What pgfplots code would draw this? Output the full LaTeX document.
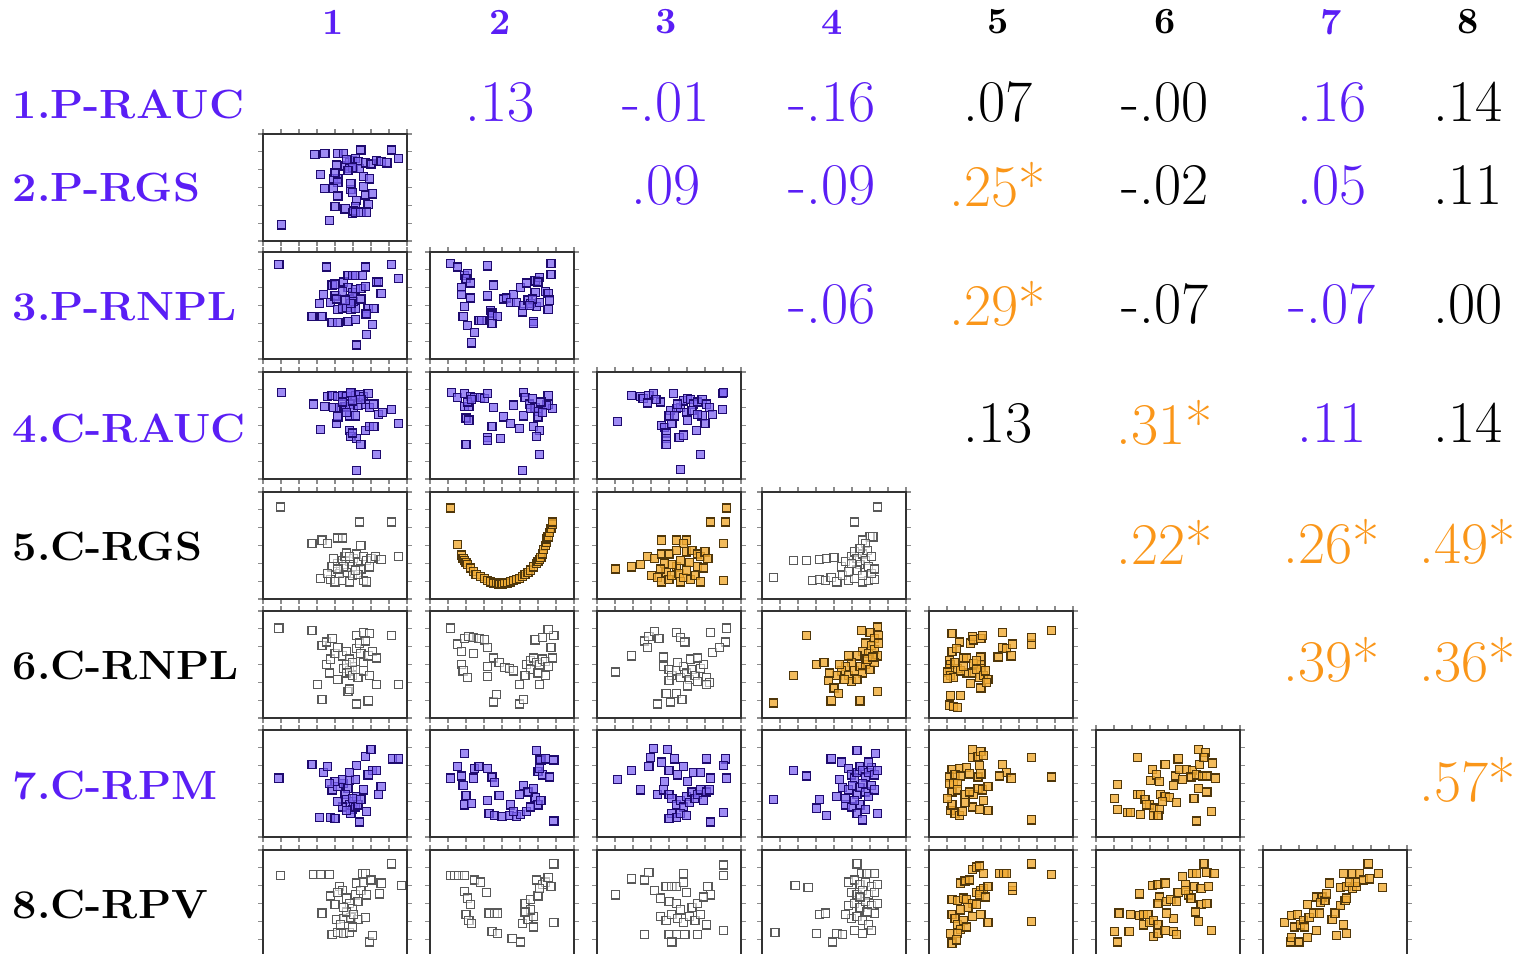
\documentclass[border=0pt]{standalone}
\usepackage{graphicx}
\usepackage{pgfplots}
\pgfplotsset{compat=1.18}
\definecolor{tblue}{RGB}{90,30,245}
\definecolor{torange}{RGB}{250,150,25}
\definecolor{mblue}{RGB}{125,100,240}
\definecolor{mnavy}{RGB}{30,10,110}
\definecolor{morange}{RGB}{240,170,50}
\definecolor{mbrown}{RGB}{80,55,10}
\pgfplotsset{
  panel/.style={width=1.44cm,height=1.07cm,scale only axis,anchor=north west,
    xmin=0,xmax=1,ymin=0,ymax=1,
    axis line style={draw=black!80,line width=0.8pt},
    xtick={0,0.125,...,1.01},ytick={0,0.1667,...,1.01},
    xticklabels={},yticklabels={},
    tick align=outside,major tick length=1.3pt,
    tick style={black!45,line width=0.35pt}},
  bluem/.style={only marks,mark=square*,mark size=1.15pt,
    mark options={draw=mnavy,fill=mblue,fill opacity=0.75,line width=0.35pt,rounded corners=0.4pt}},
  orm/.style={only marks,mark=square*,mark size=1.15pt,
    mark options={draw=mbrown,fill=morange,fill opacity=0.8,line width=0.35pt,rounded corners=0.4pt}},
  whm/.style={only marks,mark=square*,mark size=1.15pt,
    mark options={draw=black!65,fill=white,fill opacity=0.6,line width=0.35pt,rounded corners=0.4pt}},
}
\newcommand\panel[4]{\begin{axis}[panel,at={(#1cm,#2cm)}]\addplot[#3] coordinates {#4};\end{axis}}
\newcommand\hd[3]{\node[font=\bfseries\fontsize{10.5}{12}\selectfont,text=#3] at (#1cm,9.32cm) {#2};}
\newcommand\rl[3]{\node[anchor=west,font=\bfseries\fontsize{11.6}{14}\selectfont,text=#3,inner sep=0pt] at (0.12cm,#1cm) {\scalebox{1.06}[1]{#2}};}
\newcommand\nm[4]{\node[font=\fontsize{16.8}{19}\selectfont,text=#4] at (#1cm,#2cm) {#3};}
\begin{document}
\begin{tikzpicture}
% headers
\hd{3.33}{1}{tblue}\hd{5.00}{2}{tblue}\hd{6.66}{3}{tblue}\hd{8.32}{4}{tblue}
\hd{9.98}{5}{black}\hd{11.65}{6}{black}\hd{13.31}{7}{tblue}\hd{14.68}{8}{black}
% row labels
\rl{8.49}{1.P-RAUC}{tblue}
\rl{7.66}{2.P-RGS}{tblue}
\rl{6.47}{3.P-RNPL}{tblue}
\rl{5.26}{4.C-RAUC}{tblue}
\rl{4.07}{5.C-RGS}{black}
\rl{2.88}{6.C-RNPL}{black}
\rl{1.68}{7.C-RPM}{tblue}
\rl{0.49}{8.C-RPV}{black}
% correlations
\nm{5.00}{8.52}{.13}{tblue}\nm{6.66}{8.52}{-.01}{tblue}\nm{8.32}{8.52}{-.16}{tblue}\nm{9.98}{8.52}{.07}{black}
\nm{11.65}{8.52}{-.00}{black}\nm{13.32}{8.52}{.16}{tblue}\nm{14.68}{8.52}{.14}{black}
\nm{6.66}{7.69}{.09}{tblue}\nm{8.32}{7.69}{-.09}{tblue}\nm{9.98}{7.69}{.25*}{torange}
\nm{11.65}{7.69}{-.02}{black}\nm{13.32}{7.69}{.05}{tblue}\nm{14.68}{7.69}{.11}{black}
\nm{8.32}{6.50}{-.06}{tblue}\nm{9.98}{6.50}{.29*}{torange}\nm{11.65}{6.50}{-.07}{black}
\nm{13.32}{6.50}{-.07}{tblue}\nm{14.68}{6.50}{.00}{black}
\nm{9.98}{5.31}{.13}{black}\nm{11.65}{5.31}{.31*}{torange}\nm{13.32}{5.31}{.11}{tblue}\nm{14.68}{5.31}{.14}{black}
\nm{11.65}{4.12}{.22*}{torange}\nm{13.32}{4.12}{.26*}{torange}\nm{14.68}{4.12}{.49*}{torange}
\nm{13.32}{2.94}{.39*}{torange}\nm{14.68}{2.94}{.36*}{torange}
\nm{14.68}{1.74}{.57*}{torange}
% ---------- panels ----------
% (2,1)
\panel{2.63}{8.20}{bluem}{(0.13,0.15)(0.36,0.81)(0.43,0.82)(0.52,0.82)(0.56,0.82)(0.68,0.85)(0.89,0.85)(0.94,0.77)(0.40,0.62)(0.49,0.58)(0.52,0.58)(0.52,0.55)(0.50,0.64)(0.51,0.71)(0.57,0.70)(0.60,0.73)(0.62,0.75)(0.64,0.77)(0.66,0.74)(0.60,0.68)(0.63,0.68)(0.67,0.68)(0.71,0.73)(0.75,0.72)(0.79,0.75)(0.82,0.74)(0.86,0.73)(0.70,0.60)(0.74,0.58)(0.43,0.49)(0.49,0.49)(0.52,0.42)(0.61,0.48)(0.62,0.45)(0.65,0.38)(0.64,0.32)(0.70,0.51)(0.71,0.43)(0.76,0.44)(0.73,0.34)(0.50,0.32)(0.57,0.30)(0.46,0.19)(0.62,0.26)(0.63,0.28)(0.64,0.27)(0.68,0.27)(0.72,0.27)(0.62,0.69)(0.59,0.66)(0.58,0.76)(0.61,0.54)}
% (3,1)
\panel{2.63}{7.02}{bluem}{(0.11,0.88)(0.44,0.86)(0.71,0.86)(0.89,0.88)(0.94,0.75)(0.82,0.61)(0.56,0.72)(0.59,0.78)(0.62,0.78)(0.64,0.78)(0.69,0.78)(0.59,0.67)(0.62,0.62)(0.64,0.65)(0.68,0.66)(0.71,0.68)(0.79,0.72)(0.80,0.72)(0.48,0.69)(0.50,0.70)(0.47,0.53)(0.50,0.59)(0.51,0.56)(0.42,0.60)(0.39,0.52)(0.34,0.40)(0.41,0.40)(0.52,0.46)(0.55,0.47)(0.58,0.48)(0.61,0.46)(0.64,0.47)(0.60,0.56)(0.62,0.58)(0.63,0.54)(0.61,0.52)(0.68,0.56)(0.73,0.47)(0.77,0.47)(0.48,0.34)(0.52,0.34)(0.59,0.35)(0.64,0.37)(0.71,0.42)(0.72,0.42)(0.76,0.32)(0.72,0.23)(0.65,0.13)(0.57,0.55)(0.55,0.63)}
% (3,2)
\panel{4.30}{7.02}{bluem}{(0.14,0.89)(0.19,0.86)(0.24,0.78)(0.26,0.80)(0.25,0.75)(0.22,0.67)(0.28,0.71)(0.22,0.60)(0.28,0.57)(0.24,0.49)(0.23,0.40)(0.26,0.31)(0.31,0.25)(0.29,0.15)(0.34,0.36)(0.36,0.36)(0.40,0.87)(0.40,0.59)(0.44,0.69)(0.42,0.45)(0.43,0.43)(0.43,0.41)(0.47,0.40)(0.43,0.33)(0.51,0.56)(0.53,0.57)(0.56,0.53)(0.58,0.60)(0.60,0.53)(0.63,0.67)(0.64,0.44)(0.65,0.50)(0.67,0.71)(0.68,0.55)(0.70,0.52)(0.72,0.35)(0.72,0.33)(0.73,0.62)(0.73,0.73)(0.76,0.76)(0.75,0.72)(0.74,0.49)(0.76,0.53)(0.80,0.63)(0.82,0.61)(0.83,0.55)(0.82,0.46)(0.84,0.79)(0.84,0.89)(0.71,0.56)(0.69,0.50)}
% (4,1)
\panel{2.63}{5.82}{bluem}{(0.13,0.81)(0.35,0.70)(0.40,0.46)(0.43,0.68)(0.45,0.77)(0.48,0.78)(0.52,0.77)(0.55,0.78)(0.49,0.67)(0.53,0.67)(0.56,0.67)(0.51,0.52)(0.52,0.58)(0.58,0.77)(0.61,0.80)(0.64,0.78)(0.67,0.79)(0.70,0.77)(0.73,0.80)(0.61,0.81)(0.57,0.68)(0.60,0.70)(0.63,0.67)(0.66,0.69)(0.71,0.70)(0.74,0.67)(0.77,0.70)(0.80,0.60)(0.83,0.62)(0.89,0.65)(0.94,0.52)(0.60,0.59)(0.64,0.59)(0.60,0.45)(0.61,0.40)(0.65,0.38)(0.62,0.43)(0.71,0.45)(0.74,0.49)(0.77,0.49)(0.68,0.32)(0.79,0.23)(0.65,0.08)(0.55,0.72)(0.62,0.73)(0.68,0.74)(0.58,0.62)}
% (4,2)
\panel{4.30}{5.82}{bluem}{(0.15,0.81)(0.19,0.76)(0.24,0.80)(0.28,0.77)(0.31,0.76)(0.35,0.76)(0.38,0.75)(0.40,0.80)(0.24,0.68)(0.27,0.68)(0.25,0.57)(0.27,0.55)(0.25,0.32)(0.44,0.67)(0.51,0.58)(0.43,0.49)(0.40,0.39)(0.40,0.36)(0.49,0.38)(0.56,0.52)(0.62,0.47)(0.58,0.69)(0.65,0.81)(0.66,0.76)(0.65,0.59)(0.69,0.70)(0.73,0.67)(0.75,0.63)(0.75,0.58)(0.72,0.49)(0.76,0.45)(0.74,0.40)(0.76,0.23)(0.82,0.78)(0.82,0.70)(0.85,0.66)(0.81,0.69)(0.77,0.72)(0.78,0.62)(0.64,0.08)(0.70,0.66)(0.71,0.75)(0.26,0.72)(0.29,0.74)}
% (4,3)
\panel{5.97}{5.82}{bluem}{(0.14,0.54)(0.24,0.78)(0.30,0.77)(0.32,0.75)(0.36,0.78)(0.39,0.80)(0.35,0.71)(0.45,0.50)(0.47,0.48)(0.48,0.43)(0.48,0.38)(0.48,0.32)(0.53,0.80)(0.51,0.64)(0.55,0.66)(0.58,0.67)(0.60,0.73)(0.63,0.75)(0.65,0.74)(0.52,0.52)(0.50,0.59)(0.54,0.59)(0.57,0.39)(0.60,0.41)(0.58,0.09)(0.67,0.70)(0.70,0.72)(0.73,0.74)(0.76,0.70)(0.73,0.59)(0.78,0.67)(0.69,0.45)(0.72,0.23)(0.75,0.52)(0.87,0.80)(0.88,0.81)(0.87,0.65)(0.80,0.60)(0.62,0.62)(0.56,0.70)(0.44,0.72)(0.41,0.74)(0.66,0.64)(0.70,0.60)(0.63,0.55)}
% (5,1)
\panel{2.63}{4.62}{whm}{(0.12,0.86)(0.67,0.72)(0.89,0.72)(0.34,0.52)(0.41,0.55)(0.45,0.52)(0.52,0.57)(0.55,0.57)(0.68,0.50)(0.94,0.40)(0.40,0.19)(0.47,0.18)(0.50,0.16)(0.55,0.17)(0.60,0.16)(0.70,0.17)(0.72,0.16)(0.48,0.30)(0.52,0.33)(0.55,0.36)(0.57,0.40)(0.58,0.43)(0.60,0.35)(0.62,0.30)(0.63,0.38)(0.65,0.42)(0.66,0.34)(0.68,0.28)(0.70,0.40)(0.72,0.36)(0.75,0.38)(0.78,0.40)(0.82,0.37)(0.58,0.25)(0.62,0.22)(0.66,0.23)(0.53,0.24)(0.49,0.38)(0.56,0.30)(0.64,0.27)(0.74,0.30)(0.45,0.24)(0.60,0.40)(0.52,0.28)}
% (5,2)
\panel{4.30}{4.62}{orm}{(0.14,0.85)(0.19,0.51)(0.22,0.41)(0.23,0.38)(0.24,0.36)(0.25,0.34)(0.26,0.32)(0.28,0.29)(0.30,0.26)(0.32,0.23)(0.35,0.21)(0.38,0.19)(0.40,0.17)(0.42,0.16)(0.44,0.15)(0.46,0.15)(0.48,0.14)(0.50,0.14)(0.52,0.15)(0.54,0.15)(0.56,0.16)(0.58,0.17)(0.60,0.18)(0.62,0.19)(0.64,0.21)(0.66,0.23)(0.68,0.25)(0.70,0.27)(0.72,0.30)(0.74,0.33)(0.75,0.35)(0.76,0.37)(0.77,0.39)(0.78,0.42)(0.79,0.46)(0.80,0.50)(0.81,0.53)(0.81,0.56)(0.82,0.58)(0.83,0.62)(0.84,0.66)(0.85,0.70)(0.85,0.72)}
% (5,3)
\panel{5.97}{4.62}{orm}{(0.90,0.85)(0.79,0.72)(0.89,0.72)(0.88,0.52)(0.45,0.55)(0.55,0.55)(0.62,0.55)(0.60,0.52)(0.13,0.28)(0.24,0.30)(0.30,0.32)(0.88,0.17)(0.35,0.40)(0.40,0.38)(0.45,0.42)(0.50,0.42)(0.55,0.45)(0.62,0.44)(0.66,0.45)(0.70,0.42)(0.72,0.40)(0.75,0.44)(0.77,0.38)(0.38,0.22)(0.42,0.20)(0.45,0.16)(0.48,0.25)(0.50,0.18)(0.52,0.22)(0.55,0.30)(0.57,0.24)(0.58,0.16)(0.60,0.20)(0.62,0.27)(0.65,0.18)(0.68,0.22)(0.70,0.30)(0.72,0.16)(0.52,0.32)(0.58,0.36)(0.47,0.33)(0.64,0.34)(0.74,0.29)(0.44,0.28)}
% (5,4)
\panel{7.62}{4.62}{whm}{(0.80,0.86)(0.64,0.72)(0.75,0.58)(0.77,0.58)(0.70,0.55)(0.72,0.52)(0.22,0.36)(0.31,0.36)(0.40,0.37)(0.45,0.38)(0.50,0.39)(0.08,0.20)(0.35,0.17)(0.40,0.18)(0.44,0.17)(0.48,0.20)(0.52,0.16)(0.56,0.22)(0.60,0.17)(0.64,0.19)(0.70,0.16)(0.74,0.17)(0.78,0.18)(0.55,0.30)(0.58,0.35)(0.62,0.40)(0.64,0.44)(0.66,0.38)(0.68,0.32)(0.70,0.42)(0.72,0.36)(0.74,0.30)(0.76,0.24)(0.78,0.28)(0.60,0.26)(0.66,0.27)(0.70,0.22)(0.62,0.33)(0.73,0.45)(0.68,0.47)(0.76,0.40)}
% (6,1)
\panel{2.63}{3.43}{whm}{(0.11,0.84)(0.34,0.82)(0.41,0.68)(0.44,0.71)(0.48,0.74)(0.65,0.77)(0.70,0.80)(0.74,0.79)(0.89,0.77)(0.44,0.50)(0.47,0.55)(0.50,0.60)(0.52,0.66)(0.55,0.58)(0.58,0.62)(0.60,0.55)(0.62,0.48)(0.65,0.65)(0.68,0.60)(0.70,0.52)(0.73,0.58)(0.76,0.62)(0.79,0.56)(0.56,0.46)(0.58,0.42)(0.60,0.44)(0.62,0.40)(0.64,0.45)(0.66,0.38)(0.58,0.50)(0.62,0.52)(0.70,0.44)(0.74,0.40)(0.38,0.31)(0.94,0.31)(0.41,0.17)(0.65,0.13)(0.73,0.16)(0.79,0.31)(0.59,0.25)(0.60,0.27)(0.52,0.36)(0.46,0.42)(0.67,0.70)(0.71,0.72)}
% (6,2)
\panel{4.30}{3.43}{whm}{(0.14,0.84)(0.19,0.69)(0.24,0.74)(0.27,0.76)(0.30,0.75)(0.34,0.74)(0.38,0.73)(0.30,0.60)(0.40,0.66)(0.22,0.50)(0.23,0.44)(0.26,0.38)(0.40,0.39)(0.40,0.48)(0.44,0.56)(0.48,0.52)(0.52,0.47)(0.55,0.46)(0.58,0.44)(0.67,0.50)(0.70,0.54)(0.72,0.56)(0.74,0.52)(0.76,0.50)(0.78,0.55)(0.80,0.53)(0.82,0.48)(0.85,0.56)(0.73,0.73)(0.78,0.75)(0.86,0.77)(0.82,0.83)(0.44,0.15)(0.46,0.22)(0.62,0.13)(0.65,0.17)(0.62,0.31)(0.76,0.31)(0.70,0.45)(0.75,0.42)(0.80,0.40)(0.84,0.66)(0.22,0.62)(0.66,0.40)}
% (6,3)
\panel{5.97}{3.43}{whm}{(0.13,0.43)(0.24,0.58)(0.33,0.72)(0.36,0.76)(0.40,0.81)(0.43,0.74)(0.35,0.66)(0.46,0.57)(0.55,0.80)(0.58,0.75)(0.61,0.71)(0.79,0.80)(0.90,0.84)(0.80,0.61)(0.89,0.71)(0.85,0.66)(0.46,0.48)(0.50,0.45)(0.52,0.40)(0.55,0.44)(0.58,0.38)(0.60,0.48)(0.62,0.42)(0.64,0.36)(0.66,0.45)(0.68,0.40)(0.70,0.34)(0.72,0.46)(0.74,0.50)(0.76,0.38)(0.78,0.33)(0.56,0.52)(0.65,0.55)(0.70,0.56)(0.48,0.23)(0.55,0.23)(0.42,0.13)(0.51,0.15)(0.59,0.17)(0.76,0.31)(0.50,0.35)(0.63,0.30)}
% (6,4)
\panel{7.62}{3.43}{orm}{(0.08,0.14)(0.22,0.40)(0.31,0.77)(0.38,0.50)(0.43,0.52)(0.46,0.35)(0.50,0.28)(0.53,0.23)(0.48,0.16)(0.68,0.16)(0.80,0.25)(0.80,0.85)(0.69,0.82)(0.75,0.80)(0.78,0.74)(0.81,0.77)(0.72,0.70)(0.76,0.68)(0.70,0.62)(0.74,0.60)(0.78,0.64)(0.80,0.58)(0.66,0.58)(0.62,0.52)(0.58,0.48)(0.55,0.44)(0.52,0.40)(0.60,0.40)(0.64,0.44)(0.68,0.48)(0.70,0.42)(0.72,0.50)(0.75,0.45)(0.78,0.52)(0.62,0.34)(0.66,0.36)(0.57,0.36)(0.73,0.55)(0.81,0.70)(0.77,0.57)(0.54,0.50)(0.60,0.58)(0.47,0.42)}
% (6,5)
\panel{9.29}{3.43}{orm}{(0.16,0.79)(0.21,0.71)(0.16,0.62)(0.19,0.65)(0.14,0.54)(0.15,0.50)(0.14,0.46)(0.13,0.43)(0.15,0.40)(0.17,0.38)(0.13,0.37)(0.15,0.21)(0.14,0.12)(0.17,0.11)(0.20,0.10)(0.22,0.21)(0.24,0.56)(0.26,0.56)(0.29,0.70)(0.30,0.76)(0.31,0.73)(0.36,0.74)(0.37,0.77)(0.36,0.57)(0.36,0.50)(0.36,0.46)(0.26,0.42)(0.30,0.42)(0.29,0.32)(0.31,0.51)(0.33,0.45)(0.35,0.38)(0.38,0.40)(0.41,0.36)(0.36,0.28)(0.39,0.44)(0.40,0.33)(0.48,0.57)(0.51,0.80)(0.51,0.66)(0.54,0.65)(0.58,0.69)(0.57,0.58)(0.71,0.69)(0.71,0.75)(0.85,0.82)(0.20,0.46)(0.18,0.52)(0.22,0.44)(0.24,0.48)(0.33,0.54)}
% (7,1)
\panel{2.63}{2.24}{bluem}{(0.11,0.55)(0.34,0.68)(0.39,0.18)(0.47,0.18)(0.50,0.17)(0.42,0.60)(0.45,0.66)(0.48,0.44)(0.52,0.47)(0.56,0.50)(0.59,0.45)(0.50,0.52)(0.55,0.54)(0.60,0.53)(0.64,0.54)(0.71,0.75)(0.75,0.82)(0.65,0.67)(0.76,0.62)(0.79,0.62)(0.90,0.73)(0.94,0.73)(0.82,0.47)(0.80,0.40)(0.57,0.40)(0.58,0.35)(0.60,0.30)(0.62,0.26)(0.63,0.33)(0.65,0.38)(0.61,0.22)(0.64,0.28)(0.66,0.30)(0.68,0.35)(0.67,0.14)(0.72,0.24)(0.55,0.28)(0.52,0.33)(0.70,0.44)(0.73,0.58)(0.60,0.60)(0.46,0.50)(0.58,0.25)(0.62,0.36)}
% (7,2)
\panel{4.30}{2.24}{bluem}{(0.14,0.55)(0.19,0.66)(0.24,0.78)(0.22,0.57)(0.23,0.48)(0.25,0.39)(0.31,0.64)(0.34,0.66)(0.40,0.64)(0.43,0.56)(0.45,0.51)(0.24,0.30)(0.29,0.31)(0.40,0.34)(0.48,0.39)(0.41,0.22)(0.45,0.20)(0.50,0.19)(0.55,0.20)(0.60,0.19)(0.63,0.21)(0.67,0.24)(0.56,0.30)(0.65,0.48)(0.62,0.40)(0.74,0.81)(0.76,0.73)(0.77,0.72)(0.80,0.73)(0.86,0.72)(0.75,0.61)(0.78,0.58)(0.83,0.56)(0.76,0.64)(0.73,0.37)(0.75,0.30)(0.77,0.34)(0.86,0.15)(0.70,0.28)(0.68,0.42)(0.72,0.45)(0.58,0.24)(0.30,0.55)}
% (7,3)
\panel{5.97}{2.24}{bluem}{(0.14,0.54)(0.24,0.62)(0.30,0.44)(0.36,0.66)(0.39,0.83)(0.37,0.74)(0.49,0.82)(0.54,0.73)(0.60,0.66)(0.67,0.60)(0.45,0.70)(0.50,0.62)(0.42,0.40)(0.47,0.52)(0.76,0.73)(0.89,0.73)(0.88,0.67)(0.79,0.55)(0.90,0.55)(0.46,0.44)(0.50,0.40)(0.52,0.36)(0.55,0.30)(0.58,0.34)(0.60,0.28)(0.62,0.38)(0.64,0.32)(0.66,0.42)(0.68,0.36)(0.70,0.40)(0.72,0.44)(0.74,0.34)(0.76,0.42)(0.78,0.44)(0.52,0.22)(0.55,0.18)(0.58,0.22)(0.62,0.20)(0.50,0.17)(0.88,0.23)(0.79,0.14)(0.56,0.58)(0.63,0.52)(0.72,0.60)}
% (7,4)
\panel{7.62}{2.24}{bluem}{(0.08,0.35)(0.22,0.62)(0.31,0.57)(0.38,0.27)(0.40,0.35)(0.45,0.20)(0.48,0.73)(0.54,0.54)(0.66,0.81)(0.79,0.78)(0.80,0.22)(0.55,0.70)(0.60,0.64)(0.62,0.58)(0.64,0.55)(0.66,0.60)(0.68,0.66)(0.70,0.62)(0.72,0.56)(0.74,0.60)(0.76,0.65)(0.78,0.58)(0.80,0.62)(0.56,0.46)(0.60,0.44)(0.63,0.48)(0.66,0.40)(0.68,0.46)(0.70,0.50)(0.72,0.42)(0.74,0.38)(0.76,0.48)(0.78,0.44)(0.58,0.30)(0.62,0.28)(0.66,0.22)(0.68,0.30)(0.70,0.16)(0.72,0.26)(0.64,0.34)(0.74,0.70)(0.52,0.38)(0.58,0.36)}
% (7,5)
\panel{9.29}{2.24}{orm}{(0.30,0.82)(0.30,0.74)(0.34,0.75)(0.36,0.80)(0.38,0.76)(0.35,0.67)(0.34,0.56)(0.36,0.59)(0.16,0.63)(0.21,0.64)(0.26,0.65)(0.14,0.56)(0.18,0.58)(0.22,0.57)(0.28,0.59)(0.14,0.50)(0.17,0.50)(0.20,0.50)(0.31,0.40)(0.34,0.45)(0.37,0.44)(0.41,0.47)(0.16,0.42)(0.20,0.44)(0.25,0.40)(0.28,0.42)(0.15,0.25)(0.18,0.22)(0.21,0.20)(0.23,0.24)(0.16,0.30)(0.30,0.28)(0.35,0.26)(0.41,0.25)(0.51,0.68)(0.54,0.60)(0.57,0.55)(0.49,0.57)(0.71,0.74)(0.85,0.56)(0.71,0.16)(0.25,0.32)(0.38,0.34)(0.13,0.36)}
% (7,6)
\panel{10.96}{2.24}{orm}{(0.13,0.36)(0.15,0.49)(0.15,0.26)(0.22,0.23)(0.24,0.23)(0.31,0.21)(0.29,0.74)(0.29,0.40)(0.31,0.40)(0.34,0.35)(0.37,0.30)(0.40,0.27)(0.44,0.26)(0.40,0.20)(0.43,0.20)(0.39,0.63)(0.38,0.53)(0.42,0.58)(0.44,0.52)(0.45,0.40)(0.48,0.38)(0.51,0.37)(0.48,0.68)(0.54,0.48)(0.56,0.32)(0.57,0.73)(0.55,0.57)(0.60,0.54)(0.58,0.63)(0.63,0.63)(0.67,0.62)(0.66,0.56)(0.70,0.58)(0.72,0.68)(0.74,0.57)(0.77,0.57)(0.83,0.55)(0.71,0.82)(0.76,0.79)(0.75,0.74)(0.81,0.69)(0.68,0.36)(0.71,0.45)(0.77,0.42)(0.80,0.24)(0.70,0.15)(0.46,0.33)(0.35,0.30)}
% (8,1)
\panel{2.63}{1.04}{whm}{(0.12,0.76)(0.35,0.77)(0.40,0.77)(0.46,0.77)(0.69,0.78)(0.71,0.78)(0.89,0.87)(0.96,0.67)(0.65,0.69)(0.70,0.70)(0.75,0.72)(0.82,0.69)(0.53,0.66)(0.47,0.57)(0.50,0.49)(0.41,0.41)(0.51,0.35)(0.56,0.36)(0.61,0.37)(0.66,0.35)(0.71,0.37)(0.48,0.21)(0.52,0.23)(0.56,0.22)(0.60,0.23)(0.74,0.14)(0.76,0.20)(0.81,0.59)(0.55,0.62)(0.58,0.55)(0.60,0.50)(0.62,0.45)(0.64,0.58)(0.66,0.52)(0.58,0.42)(0.63,0.40)(0.68,0.62)(0.72,0.58)(0.56,0.46)(0.54,0.30)(0.62,0.28)(0.52,0.60)}
% (8,2)
\panel{4.30}{1.04}{whm}{(0.14,0.76)(0.17,0.76)(0.20,0.76)(0.24,0.76)(0.31,0.72)(0.35,0.70)(0.24,0.61)(0.26,0.55)(0.28,0.49)(0.25,0.40)(0.27,0.34)(0.29,0.31)(0.39,0.60)(0.41,0.41)(0.45,0.41)(0.47,0.41)(0.43,0.24)(0.47,0.22)(0.57,0.17)(0.63,0.14)(0.64,0.31)(0.68,0.35)(0.72,0.38)(0.66,0.50)(0.70,0.54)(0.75,0.57)(0.74,0.72)(0.78,0.68)(0.80,0.70)(0.84,0.66)(0.76,0.64)(0.86,0.87)(0.86,0.32)(0.82,0.74)(0.70,0.44)(0.72,0.28)(0.66,0.42)}
% (8,3)
\panel{5.97}{1.04}{whm}{(0.13,0.58)(0.24,0.73)(0.33,0.72)(0.36,0.79)(0.48,0.66)(0.52,0.66)(0.55,0.66)(0.60,0.78)(0.60,0.70)(0.44,0.55)(0.50,0.52)(0.55,0.50)(0.77,0.66)(0.79,0.58)(0.88,0.86)(0.88,0.76)(0.44,0.38)(0.48,0.34)(0.52,0.40)(0.56,0.36)(0.60,0.32)(0.64,0.38)(0.68,0.34)(0.72,0.40)(0.76,0.30)(0.58,0.44)(0.66,0.46)(0.70,0.50)(0.33,0.21)(0.50,0.21)(0.55,0.21)(0.61,0.21)(0.52,0.14)(0.70,0.21)(0.88,0.25)(0.62,0.60)(0.40,0.62)(0.74,0.56)}
% (8,4)
\panel{7.62}{1.04}{whm}{(0.09,0.23)(0.23,0.67)(0.32,0.65)(0.40,0.40)(0.44,0.41)(0.38,0.22)(0.49,0.14)(0.52,0.22)(0.56,0.21)(0.66,0.87)(0.69,0.78)(0.73,0.78)(0.78,0.78)(0.78,0.41)(0.60,0.70)(0.64,0.72)(0.68,0.68)(0.72,0.70)(0.76,0.66)(0.80,0.68)(0.62,0.60)(0.66,0.58)(0.70,0.62)(0.74,0.58)(0.78,0.60)(0.60,0.48)(0.64,0.50)(0.68,0.46)(0.72,0.52)(0.76,0.48)(0.80,0.50)(0.62,0.36)(0.66,0.38)(0.70,0.34)(0.74,0.30)(0.64,0.25)(0.70,0.22)(0.76,0.25)(0.58,0.40)(0.68,0.56)(0.73,0.42)}
% (8,5)
\panel{9.29}{1.04}{orm}{(0.30,0.82)(0.33,0.84)(0.35,0.85)(0.38,0.78)(0.22,0.69)(0.25,0.71)(0.28,0.72)(0.49,0.78)(0.52,0.78)(0.54,0.78)(0.58,0.62)(0.58,0.66)(0.71,0.87)(0.85,0.77)(0.71,0.33)(0.41,0.32)(0.16,0.54)(0.20,0.53)(0.24,0.55)(0.26,0.54)(0.30,0.50)(0.33,0.49)(0.30,0.38)(0.36,0.40)(0.16,0.40)(0.18,0.36)(0.20,0.30)(0.22,0.26)(0.24,0.34)(0.15,0.22)(0.20,0.22)(0.26,0.28)(0.16,0.13)(0.19,0.16)(0.33,0.60)(0.36,0.62)(0.38,0.64)(0.41,0.66)(0.35,0.58)(0.39,0.56)(0.27,0.46)(0.22,0.44)}
% (8,6)
\panel{10.96}{1.04}{orm}{(0.15,0.14)(0.13,0.24)(0.23,0.24)(0.16,0.41)(0.24,0.40)(0.30,0.39)(0.33,0.40)(0.36,0.40)(0.33,0.30)(0.37,0.32)(0.40,0.34)(0.43,0.30)(0.40,0.19)(0.43,0.22)(0.48,0.25)(0.54,0.24)(0.56,0.21)(0.54,0.36)(0.49,0.41)(0.30,0.59)(0.39,0.67)(0.43,0.68)(0.48,0.69)(0.44,0.56)(0.43,0.50)(0.49,0.52)(0.52,0.54)(0.56,0.52)(0.57,0.60)(0.60,0.75)(0.62,0.68)(0.64,0.58)(0.66,0.55)(0.67,0.78)(0.70,0.78)(0.77,0.79)(0.75,0.87)(0.82,0.78)(0.68,0.66)(0.73,0.64)(0.78,0.66)(0.73,0.49)(0.77,0.50)(0.69,0.42)(0.71,0.33)(0.80,0.25)(0.62,0.62)}
% (8,7)
\panel{12.63}{1.04}{orm}{(0.15,0.32)(0.20,0.39)(0.24,0.40)(0.19,0.14)(0.20,0.18)(0.25,0.14)(0.31,0.18)(0.22,0.28)(0.26,0.30)(0.28,0.34)(0.32,0.37)(0.37,0.25)(0.35,0.41)(0.39,0.41)(0.31,0.49)(0.37,0.56)(0.41,0.56)(0.40,0.51)(0.43,0.53)(0.44,0.59)(0.46,0.69)(0.48,0.35)(0.50,0.41)(0.51,0.20)(0.58,0.22)(0.56,0.30)(0.54,0.48)(0.57,0.53)(0.56,0.78)(0.62,0.78)(0.67,0.78)(0.54,0.65)(0.58,0.66)(0.62,0.64)(0.65,0.66)(0.64,0.70)(0.70,0.72)(0.74,0.73)(0.73,0.87)(0.80,0.78)(0.83,0.65)(0.58,0.55)(0.29,0.28)(0.60,0.70)}
\pgfresetboundingbox
\path[use as bounding box] (0,0) rectangle (15.22,9.54);
\end{tikzpicture}
\end{document}
